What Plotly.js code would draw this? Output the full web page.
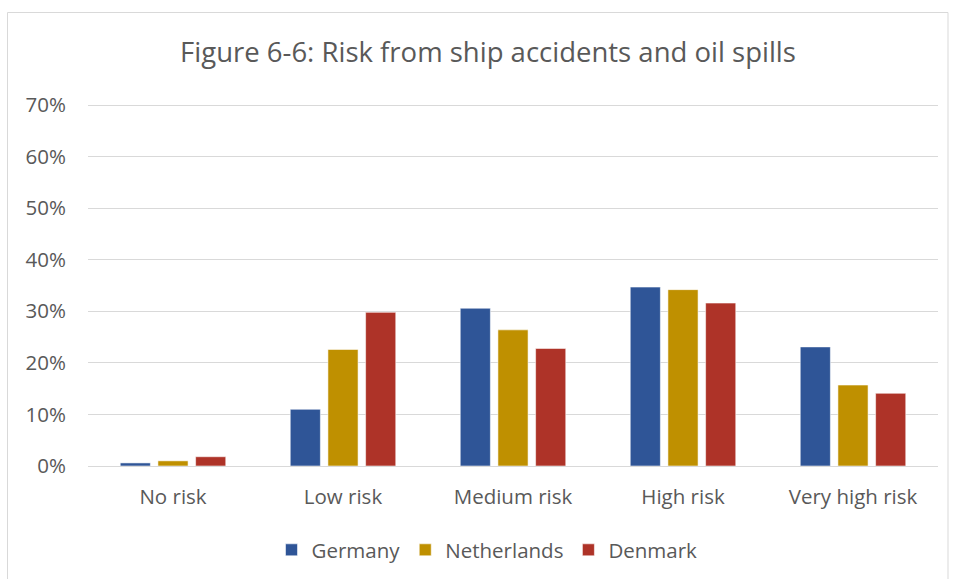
<!DOCTYPE html>
<html>
<head>
<meta charset="utf-8">
<script src="https://cdn.plot.ly/plotly-3.0.1.min.js"></script>
<style>
  html, body { margin: 0; padding: 0; background: #ffffff; }
  #chart { width: 954px; height: 579px; }
</style>
</head>
<body>
<div id="chart"></div>
<script>
const categories = ["No risk", "Low risk", "Medium risk", "High risk", "Very high risk"];
const seriesNames = ["Germany", "Netherlands", "Denmark"];
const germany = [0.006, 0.110, 0.306, 0.347, 0.231];
const netherlands = [0.010, 0.226, 0.264, 0.342, 0.157];
const denmark = [0.018, 0.298, 0.228, 0.316, 0.141];
const colors = ["#2F5597", "#BF9000", "#AE3328"];
const yTicks = [0, 0.1, 0.2, 0.3, 0.4, 0.5, 0.6, 0.7];

const FONT = "Open Sans, Liberation Sans, sans-serif";
const TEXT = "#595959";

const values = [germany, netherlands, denmark];
const traces = values.map((v, i) => ({
  type: "bar",
  name: seriesNames[i],
  x: categories,
  y: v,
  marker: { color: colors[i], line: { color: "rgba(255,255,255,0.55)", width: 1 } },
  hoverinfo: "x+y+name"
}));

const YMAX = 0.702;
const L = 88, R = 16, B = 113;
const W = 954, H = 579;
const pxPerUnit = (466 - 104.7) / 0.7;
const T = Math.round(466 - YMAX * pxPerUnit);
const pw = W - L - R, ph = H - T - B;
const px = x => (x - L) / pw;
const py = y => (H - B - y) / ph;

const layout = {
  width: W, height: H,
  margin: { l: L, r: R, t: T, b: B, pad: 0, autoexpand: false },
  paper_bgcolor: "#ffffff",
  plot_bgcolor: "#ffffff",
  font: { family: FONT, color: TEXT, size: 20 },
  title: {
    text: "Figure 6-6: Risk from ship accidents and oil spills",
    font: { family: FONT, size: 27.5, color: TEXT },
    x: px(488), xref: "paper", xanchor: "center",
    y: py(53), yref: "paper", yanchor: "middle"
  },
  barmode: "group",
  bargap: 0.335,
  bargroupgap: 0.2,
  xaxis: {
    type: "category",
    showgrid: false,
    showline: true,
    linecolor: "#D9D9D9",
    linewidth: 1,
    ticks: "",
    ticklabelstandoff: 12,
    tickfont: { family: FONT, size: 20.5, color: TEXT },
    zeroline: false,
    automargin: false
  },
  yaxis: {
    range: [0, YMAX],
    tickvals: yTicks,
    tickformat: ".0%",
    showgrid: true,
    gridcolor: "#D9D9D9",
    gridwidth: 1,
    zeroline: false,
    showline: false,
    ticks: "",
    ticklabelstandoff: 21,
    tickfont: { family: FONT, size: 20.5, color: TEXT },
    fixedrange: true,
    automargin: false
  },
  legend: {
    orientation: "h",
    x: px(487), xanchor: "center",
    y: py(550), yanchor: "middle",
    font: { family: FONT, size: 20.5, color: TEXT },
    itemwidth: 30,
    traceorder: "normal"
  },
  shapes: [{
    type: "rect", xref: "paper", yref: "paper",
    x0: px(7.5), x1: px(948), y0: py(590), y1: py(12.5),
    line: { color: "#D9D9D9", width: 1 },
    fillcolor: "rgba(0,0,0,0)", layer: "below"
  }],
  showlegend: true
};

Plotly.newPlot("chart", traces, layout, { displayModeBar: false, staticPlot: false });
</script>
</body>
</html>
